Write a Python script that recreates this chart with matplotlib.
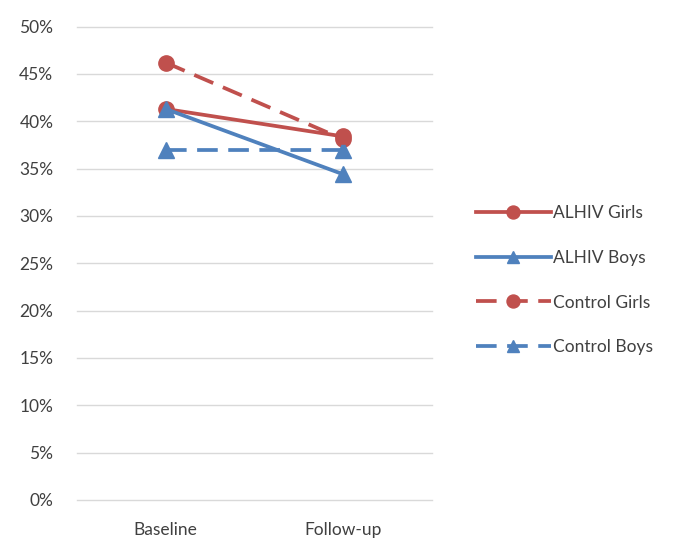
import matplotlib
matplotlib.use("Agg")
import matplotlib.pyplot as plt
from matplotlib.ticker import PercentFormatter

plt.rcParams['font.family'] = ['Lato', 'DejaVu Sans']

# data
timepoints = ['Baseline', 'Follow-up']
alhiv_girls = [41.3, 38.4]
alhiv_boys = [41.3, 34.4]
control_girls = [46.2, 38.1]
control_boys = [37.0, 37.0]

RED = '#C0504D'
BLUE = '#4F81BD'

fig = plt.figure(figsize=(6.75, 5.41), dpi=100)
ax = fig.add_axes([0.114, 0.0758, 0.526, 0.875])

x = range(len(timepoints))
lw = 2.7
dash = (5.5, 2.8)
ms = 11
ax.plot(x, control_girls, color=RED, lw=lw, dashes=dash, marker='o', ms=ms, label='Control Girls', zorder=3)
ax.plot(x, control_boys, color=BLUE, lw=lw, dashes=dash, marker='^', ms=ms, label='Control Boys', zorder=3)
ax.plot(x, alhiv_girls, color=RED, lw=lw, marker='o', ms=ms, label='ALHIV Girls', zorder=4)
ax.plot(x, alhiv_boys, color=BLUE, lw=lw, marker='^', ms=ms, label='ALHIV Boys', zorder=4)

ax.set_xlim(-0.5, 1.5)
ax.set_ylim(0, 50)
ax.set_yticks(range(0, 51, 5))
ax.yaxis.set_major_formatter(PercentFormatter(decimals=0))
ax.set_xticks(list(x))
ax.set_xticklabels(timepoints)
ax.tick_params(length=0, labelsize=12.5, colors='#404040')
ax.tick_params(axis='x', pad=16)
ax.tick_params(axis='y', pad=17)
ax.grid(axis='y', color='#D9D9D9', lw=1)
for gl in ax.get_ygridlines():
    gl.set_clip_on(False)
ax.set_axisbelow(True)
for s in ax.spines.values():
    s.set_visible(False)

handles, labels = ax.get_legend_handles_labels()
order = [2, 3, 0, 1]
leg = fig.legend([handles[i] for i in order], [labels[i] for i in order],
                 loc='center left', bbox_to_anchor=(0.682, 0.482), frameon=False,
                 fontsize=12.5, handlelength=4.3, handletextpad=0.15, labelspacing=1.65,
                 labelcolor='#404040', markerscale=0.85)

fig.savefig('out.png', dpi=100)
